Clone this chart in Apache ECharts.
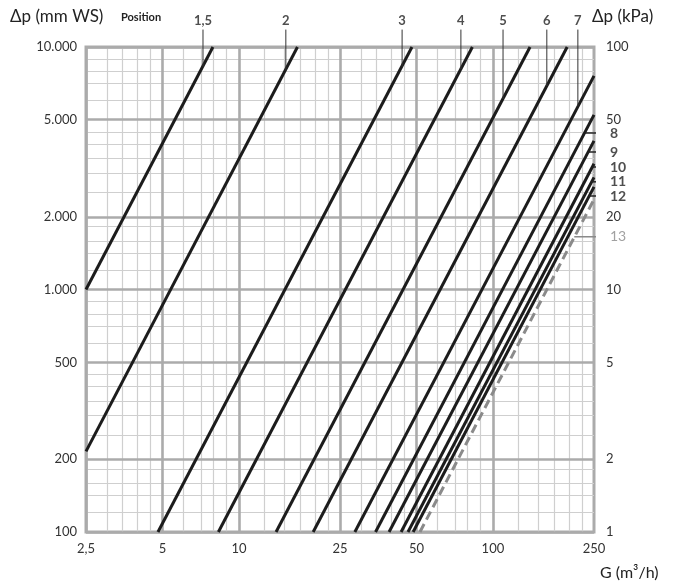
<!DOCTYPE html>
<html lang="de">
<head>
<meta charset="UTF-8">
<title>Druckverlust</title>
<script src="https://cdn.jsdelivr.net/npm/echarts@6/dist/echarts.min.js"></script>
</head>
<body style="margin:0">
<div id="main" style="width:676px;height:587px;"></div>
<script type="text/javascript">
// Durchfluss G (m3/h) gegen Druckverlust dp (mm WS), je Position eine Gerade
var positions = ['1,5', '2', '3', '4', '5', '6', '7', '8', '9', '10', '11', '12', '13'];
var lineStart = [[2.5, 1000], [2.5, 215], [4.8, 100], [8.3, 100], [14, 100], [19.6, 100], [28.6, 100],
    [34.5, 100], [39, 100], [43.5, 100], [46.3, 100], [48.5, 100], [51.6, 100]];
var lineEnd = [[7.9, 10000], [17, 10000], [48, 10000], [83, 10000], [140, 10000], [196, 10000], [250, 7600],
    [250, 5250], [250, 4100], [250, 3300], [250, 2900], [250, 2650], [250, 2350]];

var xTicks = [2.5, 5, 10, 25, 50, 100, 250];
var xTickLabels = ['2,5', '5', '10', '25', '50', '100', '250'];
var xMinor = [3, 3.5, 4, 4.5, 6, 7, 8, 9, 12.5, 15, 17.5, 20, 22.5, 30, 35, 40, 45, 60, 70, 80, 90, 125, 150, 175, 200, 225];
var yTicks = [100, 200, 500, 1000, 2000, 5000, 10000];
var yTickLabels = ['100', '200', '500', '1.000', '2.000', '5.000', '10.000'];
var kpaLabels = ['1', '2', '5', '10', '20', '50', '100'];
var yMinor = [120, 140, 160, 180, 250, 300, 350, 400, 450, 600, 700, 800, 900, 1200, 1400, 1600, 1800,
    2500, 3000, 3500, 4000, 4500, 6000, 7000, 8000, 9000];

// Hinweislinien oben (Positionen 1,5 bis 7)
var topLabelG = [7.22, 15.3, 43.9, 74.8, 109.6, 163, 216];
var topLabelDpLow = [8300, 8000, 8300, 8100, 6100, 6900, 5700];
var topLabelDpHigh = 11800;
// Hinweislinien rechts (Positionen 8 bis 13)
var sideLabelDp = [4420, 3690, 3200, 2780, 2430, 1650];
var sideLabelG = [229, 237, 247, 244, 239, 209];
var sideLabelGEnd = 276;

var lg = Math.log10;
var FONT = 'Lato';
var myChart = echarts.init(document.getElementById('main'));

function gridLines(vals, dim, color, width) {
    return {
        type: 'line', data: [], silent: true,
        markLine: {
            silent: true, symbol: 'none', label: {show: false},
            lineStyle: {color: color, width: width, type: 'solid'},
            data: vals.map(function (v) { var o = {}; o[dim] = lg(v); return o; })
        }
    };
}

var series = [
    gridLines(xMinor, 'xAxis', '#cfcfcf', 1.2),
    gridLines(yMinor, 'yAxis', '#cfcfcf', 1.2),
    gridLines(xTicks, 'xAxis', '#ababab', 2.6),
    gridLines(yTicks, 'yAxis', '#ababab', 2.6)
];

positions.forEach(function (p, i) {
    var dashed = p === '13';
    series.push({
        type: 'line', name: p, z: 5, symbol: 'none', silent: true,
        lineStyle: {color: dashed ? '#8a8a8a' : '#1c1c1c', width: 3, type: dashed ? [9, 5] : 'solid'},
        data: [[lg(lineStart[i][0]), lg(lineStart[i][1])], [lg(lineEnd[i][0]), lg(lineEnd[i][1])]]
    });
});

topLabelG.forEach(function (g, i) {
    series.push({
        type: 'line', z: 6, symbol: 'none', clip: false, silent: true,
        lineStyle: {color: '#333', width: 1},
        data: [[lg(g), lg(topLabelDpLow[i])], [lg(g), lg(topLabelDpHigh)]]
    });
});
series.push({
    type: 'scatter', z: 7, symbolSize: 0, clip: false, silent: true,
    label: {
        show: true, position: 'top', distance: 2,
        fontFamily: FONT, fontWeight: 'bold', fontSize: 13, color: '#222',
        formatter: function (d) { return positions[d.dataIndex]; }
    },
    data: topLabelG.map(function (g) { return [lg(g), lg(topLabelDpHigh)]; })
});

sideLabelDp.forEach(function (dp, i) {
    var gray = i === 5;
    series.push({
        type: 'line', z: 6, symbol: 'none', clip: false, silent: true,
        lineStyle: {color: gray ? '#8a8a8a' : '#222', width: 1.5},
        data: [[lg(sideLabelG[i]), lg(dp)], [lg(sideLabelGEnd), lg(dp)]]
    });
});
series.push({
    type: 'scatter', z: 7, symbolSize: 0, clip: false, silent: true,
    label: {
        show: true, position: 'right', distance: 5,
        fontFamily: FONT, fontWeight: 'bold', fontSize: 14,
        formatter: function (d) { return positions[7 + d.dataIndex]; },
        color: '#222'
    },
    data: sideLabelDp.map(function (dp, i) {
        var item = {value: [lg(sideLabelGEnd), lg(dp)]};
        if (i === 5) item.label = {color: '#8a8a8a', fontWeight: 'normal'};
        return item;
    })
});

function tickFmt(vals, labels) {
    return function (v) {
        for (var i = 0; i < vals.length; i++) {
            if (Math.abs(lg(vals[i]) - v) < 1e-6) return labels[i];
        }
        return '';
    };
}

var labelStyle = {fontFamily: FONT, fontSize: 13, color: '#333'};

var option = {
    animation: false,
    grid: {left: 86, right: 82, top: 47, bottom: 55, show: true, borderColor: '#ababab', borderWidth: 3},
    xAxis: {
        type: 'value', min: lg(2.5), max: lg(250),
        axisLine: {show: false}, axisTick: {show: false}, splitLine: {show: false},
        axisLabel: Object.assign({
            margin: 10, customValues: xTicks.map(lg), formatter: tickFmt(xTicks, xTickLabels)
        }, labelStyle)
    },
    yAxis: [{
        type: 'value', min: 2, max: 4,
        axisLine: {show: false}, axisTick: {show: false}, splitLine: {show: false},
        axisLabel: Object.assign({
            margin: 9, customValues: yTicks.map(lg), formatter: tickFmt(yTicks, yTickLabels)
        }, labelStyle)
    }, {
        type: 'value', min: 2, max: 4, position: 'right',
        axisLine: {show: false}, axisTick: {show: false}, splitLine: {show: false},
        axisLabel: Object.assign({
            margin: 12, customValues: yTicks.map(lg), formatter: tickFmt(yTicks, kpaLabels)
        }, labelStyle)
    }],
    graphic: [
        {type: 'text', left: 10, top: 8, style: {text: 'Δp (mm WS)', font: '17px ' + FONT, fill: '#222'}},
        {type: 'text', left: 121, top: 12, style: {text: 'Position', font: 'bold 11px ' + FONT, fill: '#222'}},
        {type: 'text', left: 592, top: 8, style: {text: 'Δp (kPa)', font: '17px ' + FONT, fill: '#222'}},
        {type: 'text', left: 600, top: 565, style: {text: 'G (m³/h)', font: '16px ' + FONT, fill: '#222'}}
    ],
    series: series
};
myChart.setOption(option);
</script>
</body>
</html>
